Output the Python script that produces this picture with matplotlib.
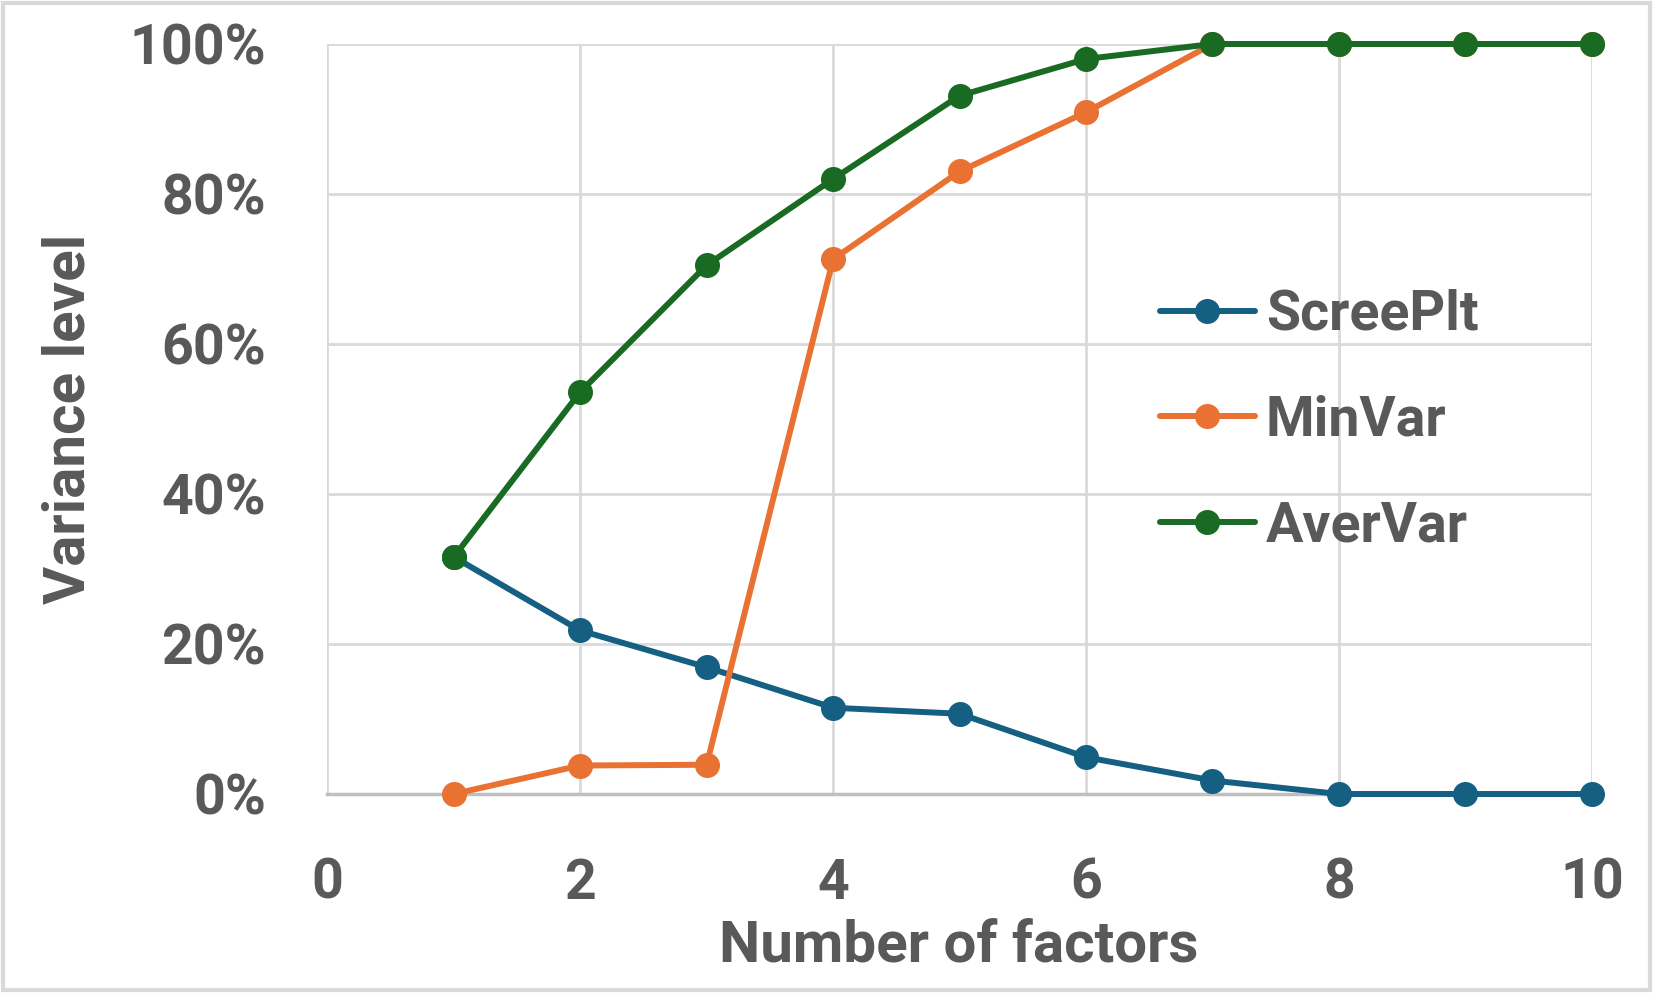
### Variance level vs number of factors

import matplotlib
matplotlib.use('Agg')

import matplotlib.pyplot as pp
import matplotlib.patches as mpatches
from matplotlib.ticker import FuncFormatter

##### DATA #####
factors = [1, 2, 3, 4, 5, 6, 7, 8, 9, 10]
scree_plt = [31.6, 21.8, 16.9, 11.5, 10.7, 4.9, 1.8, 0.0, 0.0, 0.0]
min_var = [0.0, 3.8, 3.9, 71.3, 83.0, 90.9, 100.0, 100.0, 100.0, 100.0]
aver_var = [31.6, 53.6, 70.5, 82.0, 93.1, 98.0, 100.0, 100.0, 100.0, 100.0]
series_names = ['ScreePlt', 'MinVar', 'AverVar']
x_ticks = [0, 2, 4, 6, 8, 10]
y_ticks = [0, 20, 40, 60, 80, 100]

### Styles
colors = ['#156082', '#E97132', '#196B24']
text_color = '#595959'
grid_color = '#D9D9D9'
font = ['Roboto', 'DejaVu Sans']

pp.rcParams['font.family'] = font

fig = pp.figure(figsize=(16.53, 9.93), dpi=100)
ax = fig.add_axes([0.198, 0.2004, 0.765, 0.7553])

for vals, name, c in zip([scree_plt, min_var, aver_var], series_names, colors):
    ax.plot(factors, [v / 100.0 for v in vals], color=c, linewidth=4.3,
            marker='o', markersize=17, label=name, clip_on=False, zorder=3,
            solid_capstyle='round')

ax.set_xlim(0, 10)
ax.set_ylim(0, 1)
ax.set_xticks(x_ticks)
ax.set_yticks([v / 100.0 for v in y_ticks])
ax.yaxis.set_major_formatter(FuncFormatter(lambda v, p: f'{v*100:.0f}%'))

ax.grid(True, color=grid_color, linewidth=2)
ax.set_axisbelow(True)
for s in ['top', 'right', 'left']:
    ax.spines[s].set_visible(False)
ax.spines['bottom'].set_color('#BFBFBF')
ax.spines['bottom'].set_linewidth(2.5)
ax.tick_params(length=0, labelcolor=text_color, labelsize=40)
ax.tick_params(axis='y', pad=44)
ax.tick_params(axis='x', pad=46)
for lab in ax.get_xticklabels() + ax.get_yticklabels():
    lab.set_fontweight('bold')

ax.set_xlabel('Number of factors', fontsize=42, fontweight='bold', color=text_color, va='center')
ax.set_ylabel('Variance level', fontsize=42, fontweight='bold', color=text_color, va='center')
ax.xaxis.set_label_coords((959 - 327) / 1265.0, -(946 - 794) / 750.0)
ax.yaxis.set_label_coords(-(327 - 69) / 1265.0, (794 - 419) / 750.0)

leg = ax.legend(loc='upper left', bbox_to_anchor=(0.641, 0.703), frameon=False,
                fontsize=40, handlelength=1.7, handletextpad=0.2,
                labelspacing=0.97, borderaxespad=0)
for t in leg.get_texts():
    t.set_color(text_color)
    t.set_fontweight('bold')

# light frame round the whole chart
fig.patches.append(mpatches.Rectangle((0.002, 0.003), 0.996, 0.994, transform=fig.transFigure,
                                      fill=False, edgecolor=grid_color, linewidth=3))

pp.savefig('out.png')
pp.close()
